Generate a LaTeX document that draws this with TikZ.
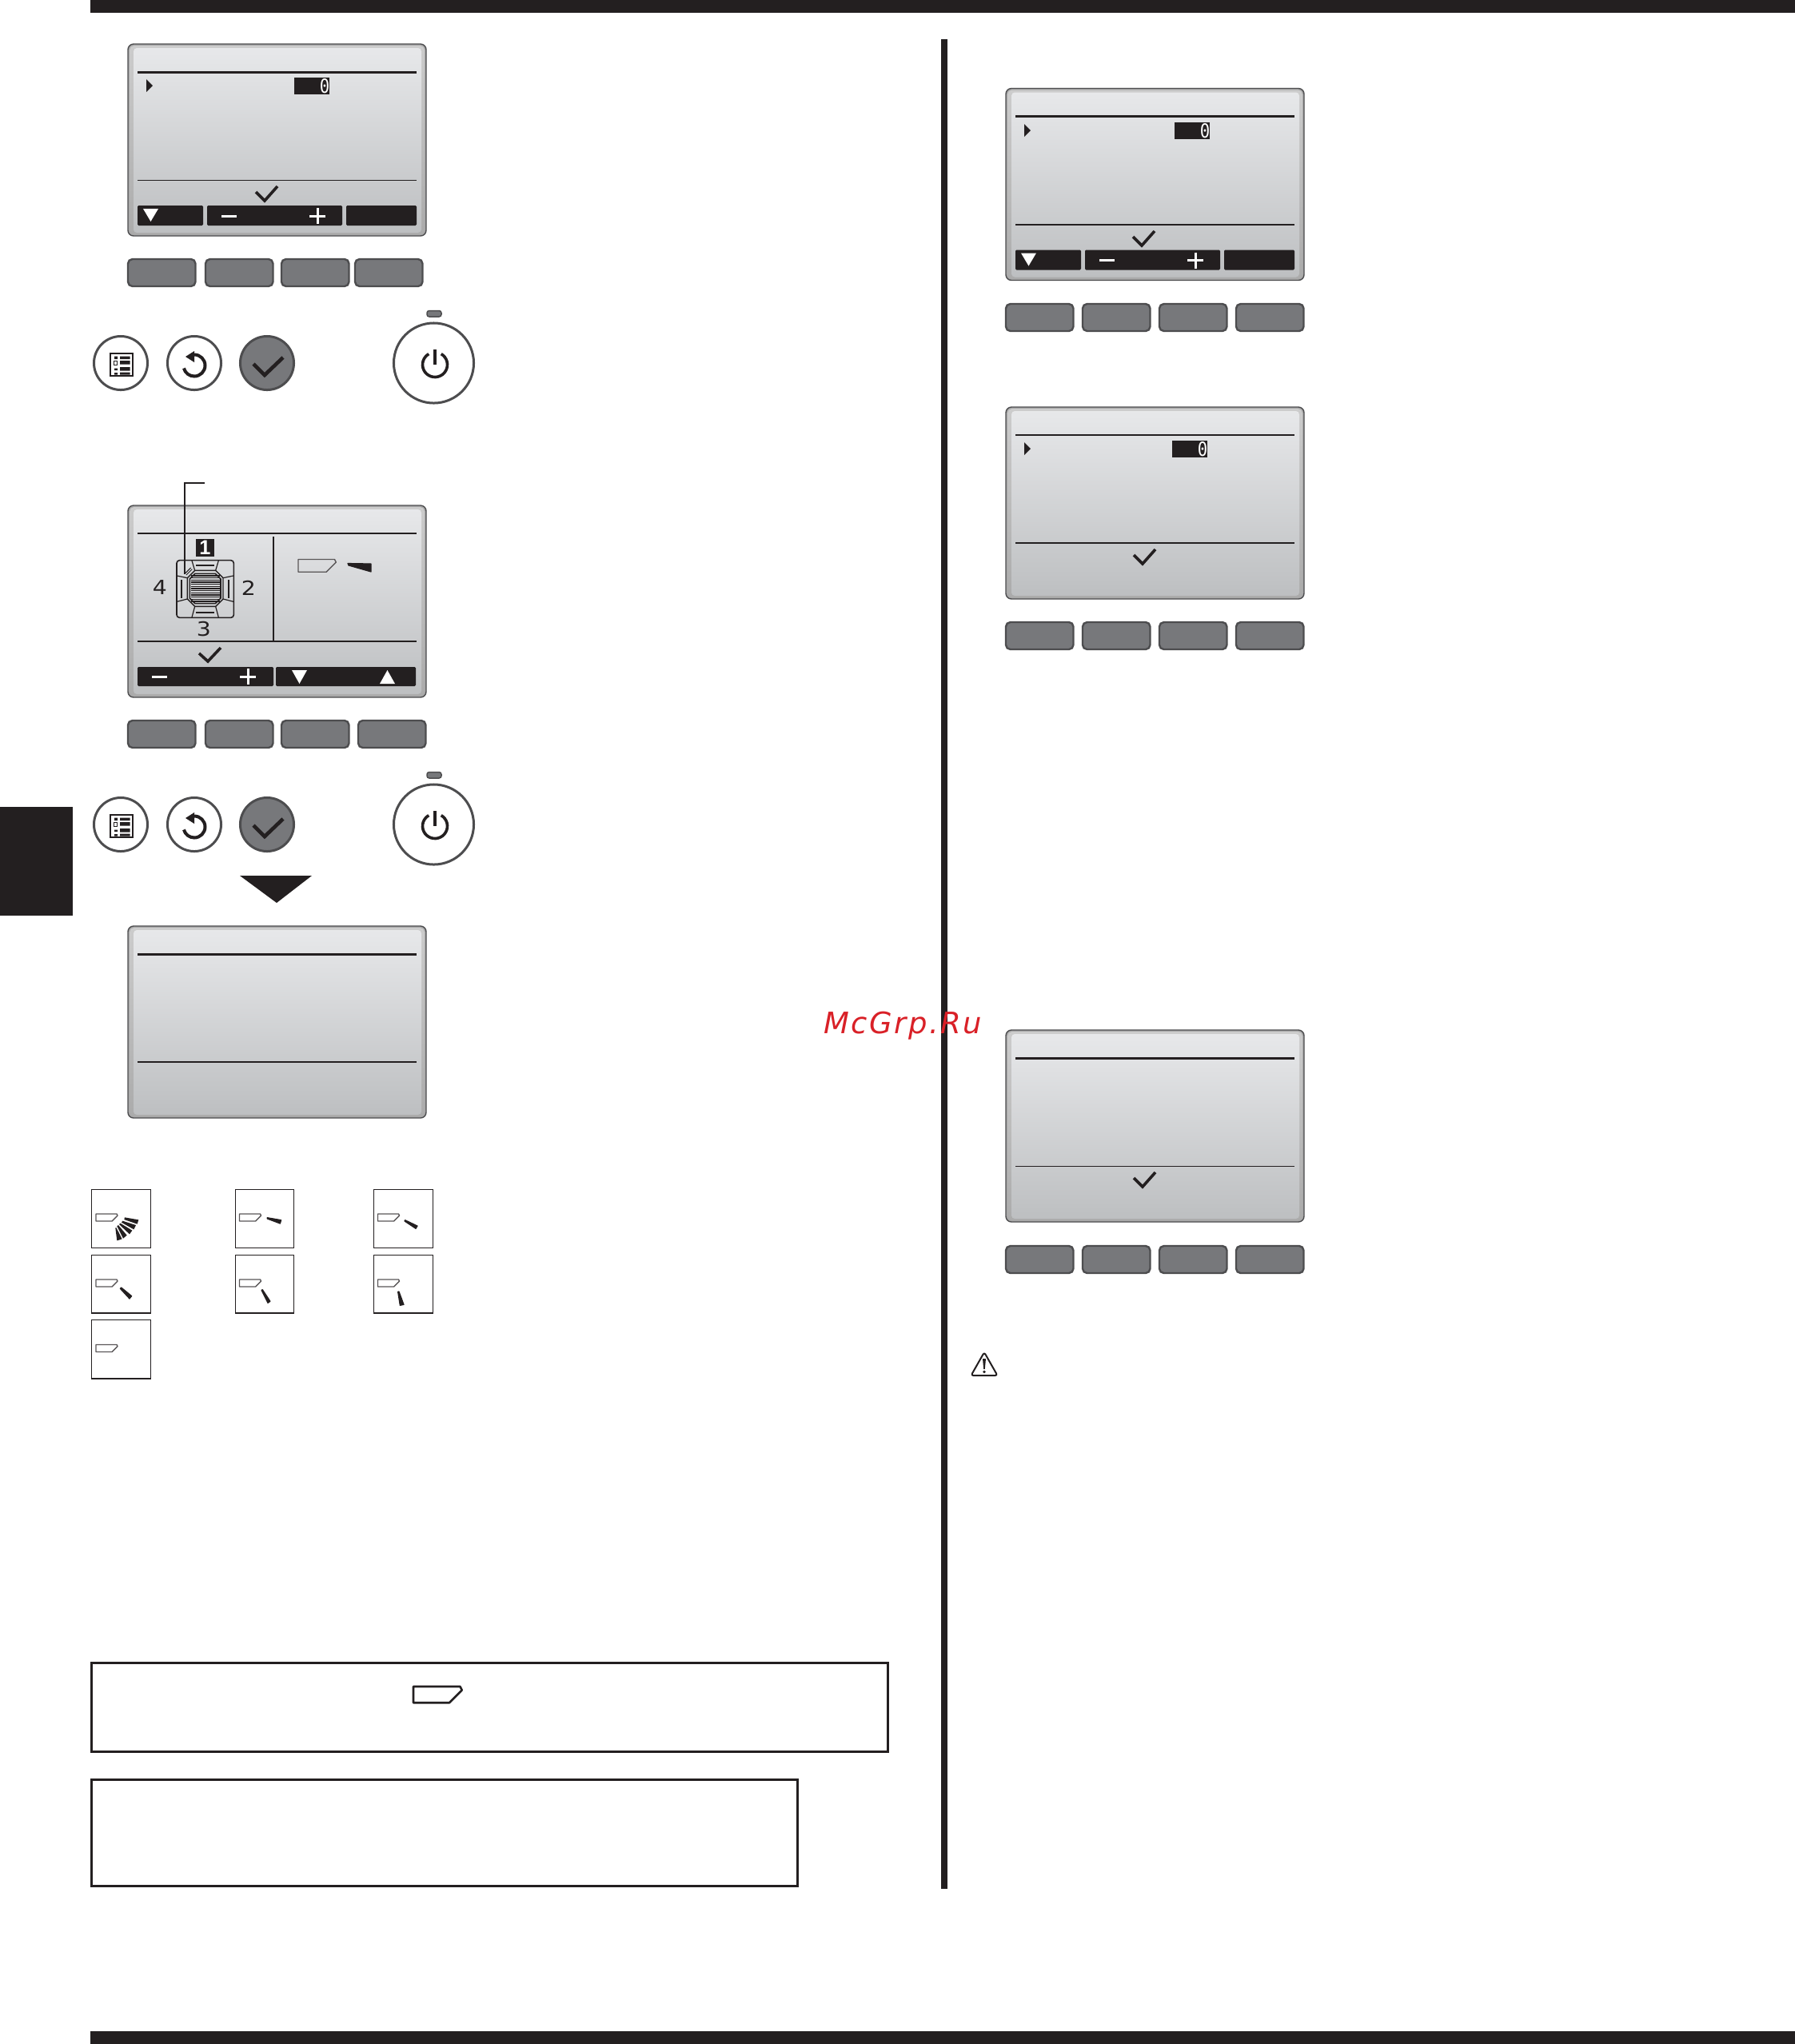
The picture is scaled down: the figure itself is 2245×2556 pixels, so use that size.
\documentclass[tikz,border=0pt]{standalone}
\usepackage{fontspec}
\setmainfont{DejaVu Sans}
\newfontfamily\monofnt{DejaVu Sans Mono}
\newfontfamily\digitfnt{Liberation Sans}
\newfontfamily\wmfnt[LetterSpace=6.5]{DejaVu Sans}
\definecolor{ink}{HTML}{231F20}
\definecolor{btn}{HTML}{77787B}
\definecolor{btnedge}{HTML}{4D4D4F}
\definecolor{scrtop}{HTML}{E7E8EA}
\definecolor{scrbot}{HTML}{BDBFC1}
\definecolor{wmred}{HTML}{D92027}
\tikzset{
  lw/.style={line width=#1*0.2845pt},
  softbar/.style={fill=ink,rounded corners=0.4pt},
  softkey/.style={fill=btn,draw=btnedge,lw=2.4,rounded corners=1.6pt},
  roundkey/.style={fill=white,draw=btnedge,lw=3},
  check/.style={draw=ink,lw=3.6,line join=miter},
  louver/.style={draw=ink!75,lw=1.4,line join=round},
  wedge/.style={fill=ink,draw=ink,lw=1.2,line join=round},
  fanblade/.style={fill=ink},
  thumb/.style={draw=ink,lw=1.7,fill=white},
  notebox/.style={draw=ink,lw=3,fill=white},
  txt/.style={inner sep=0pt,text=ink},
}
% screen body with bevel; #1,#2 shift; #3,#4 widths of the two rules
\newcommand{\screenbody}[4]{%
  \begin{scope}[shift={(#1,#2)}]
    \fill[rounded corners=2pt,draw=btnedge,lw=1.4,fill=black!34] (160,55) rectangle (533,295);
    \shade[rounded corners=1.6pt,top color=black!20,bottom color=black!33] (162,57) rectangle (531,293);
    \shade[rounded corners=1.2pt,top color=scrtop,bottom color=scrbot] (167,60) rectangle (527,291);
    \draw[ink,lw=#3] (172,90) -- (521,90);
    \draw[ink,lw=#4] (172,225) -- (521,225);
  \end{scope}}
\newcommand{\screencheck}[2]{\draw[check,shift={(#1,#2)}] (320,240) -- (331,251) -- (347,233);}
\newcommand{\valuebox}[3]{%
  \begin{scope}[shift={(#1,#2)}]
    \fill[ink] (183,99) -- (191,107) -- (183,115) -- cycle;
    \fill[ink] (#3,97) rectangle (#3+44,118);
    \node[txt,text=white,font=\monofnt\fontsize{6.9pt}{7pt}\selectfont] (zero#1#2) at (#3+38,107.5) {\scalebox{0.85}[1]{0}};
  \end{scope}}
\newcommand{\softbars}[2]{%
  \begin{scope}[shift={(#1,#2)}]
    \fill[softbar] (172,257) rectangle (254,282);
    \fill[softbar] (259,257) rectangle (428,282);
    \fill[softbar] (433,257) rectangle (521,282);
    \fill[white] (179,261) -- (198,261) -- (188.5,277) -- cycle;
    \draw[white,lw=3] (277,270) -- (296,270);
    \draw[white,lw=3] (387,270) -- (407,270) (397,260) -- (397,280);
  \end{scope}}
\newcommand{\btnrow}[5]{%
  \fill[softkey] (#1+1,#5+1) rectangle (#1+85.5,#5+35);
  \fill[softkey] (#2+1,#5+1) rectangle (#2+85.5,#5+35);
  \fill[softkey] (#3+1,#5+1) rectangle (#3+85.5,#5+35);
  \fill[softkey] (#4+1,#5+1) rectangle (#4+85.5,#5+35);}
\newcommand{\panelkeys}[1]{%
  \begin{scope}[shift={(0,#1)}]
    \draw[roundkey] (151,454) circle[radius=0.335cm];
    \draw[roundkey] (243,454) circle[radius=0.335cm];
    \draw[roundkey,fill=btn] (334,454) circle[radius=0.335cm];
    \draw[roundkey] (542.5,454) circle[radius=0.5cm];
    \fill[btn,draw=btnedge,lw=1.5,rounded corners=0.8pt] (534,388.5) rectangle (552,396);
    % menu icon
    \draw[ink,lw=2.4] (138,442) rectangle (166,470);
    \fill[ink] (143,445.5) rectangle (147,449) (143,460.5) rectangle (147,463) (143,466) rectangle (147,468.5);
    \draw[ink,lw=1.2] (142.5,451.5) rectangle (146.5,456.5);
    \fill[ink] (150,445.5) rectangle (162.5,449) (150,451) rectangle (162.5,455.5) (150,459) rectangle (162.5,463.5) (150,465.5) rectangle (162.5,468.5);
    % return icon
    \draw[ink,lw=4] (243,457)+(90:0.135cm) arc[start angle=90,end angle=-165,radius=0.135cm];
    \fill[ink] (232,446) -- (243,439) -- (243,453) -- cycle;
    % check icon
    \draw[ink,lw=4.6] (317,455) -- (331,469) -- (354,447);
    % power icon
    \draw[ink,lw=3.6] (544,456)+(60:0.155cm) arc[start angle=60,end angle=-240,radius=0.155cm];
    \draw[ink,lw=4.6] (544,437) -- (544,456);
  \end{scope}}
\newcommand{\louv}[3]{%
  \draw[louver,shift={(#1,#2)},scale=#3] (0,0) -- (26,0) -- (27,2) -- (20,9) -- (0,9) -- cycle;}
\begin{document}
\begin{tikzpicture}[x=0.01cm,y=-0.01cm]
\useasboundingbox (0,0) rectangle (2245,2556);
\fill[white] (0,0) rectangle (2245,2556);
% page furniture
\fill[ink] (113,0) rectangle (2245,16);
\fill[ink] (113,2540) rectangle (2245,2556);
\fill[ink] (0,1009) rectangle (91,1145);
\fill[ink] (1177,49) rectangle (1185,2362);
% left column, first screen
\screenbody{0}{0}{3}{1}
\valuebox{0}{0}{368}
\screencheck{0}{0}
\softbars{0}{0}
\btnrow{159}{256}{351}{443}{323}
\panelkeys{0}
% left column, second screen
\screenbody{0}{577}{2}{2}
\draw[ink,lw=2] (342,671) -- (342,802);
\btnrow{159}{256}{351}{447}{900}
\panelkeys{577}
\fill[ink,rounded corners=0.4pt] (172,834) rectangle (342,858);
\fill[ink,rounded corners=0.4pt] (345,834) rectangle (520,858);
\draw[white,lw=3] (190,846) -- (209,846);
\draw[white,lw=3] (300,846) -- (320,846) (310,836) -- (310,856);
\fill[white] (365,838) -- (384,838) -- (374.5,855) -- cycle;
\fill[white] (475,855) -- (494,855) -- (484.5,838) -- cycle;
\draw[check] (249,817) -- (260,827) -- (276,810);
% blade marker and unit
\fill[ink] (245,674) rectangle (268,696);
\node[txt,text=white,font=\digitfnt\fontsize{7.2pt}{7pt}\selectfont\bfseries] (unitone) at (256.5,685) {1};
\node[txt,font=\fontsize{7pt}{7pt}\selectfont] (unitfour) at (200,735) {\scalebox{1.15}[1]{4}};
\node[txt,font=\fontsize{7pt}{7pt}\selectfont] (unittwo) at (311,735) {\scalebox{1.15}[1]{2}};
\node[txt,font=\fontsize{7pt}{7pt}\selectfont] (unitthree) at (255,787) {\scalebox{1.15}[1]{3}};
\louv{373}{699.5}{1.75}
\fill[wedge] (435,704.5) -- (464,705) -- (464,715) -- (436,707) -- cycle;
% cassette icon, coordinates from the 3x crop
\begin{scope}[shift={(140,590)},scale=1/3]
  \draw[ink,lw=1.6,rounded corners=1pt] (243,332) rectangle (457,547);
  \draw[ink,lw=1.4] (283,398) -- (311,370) -- (389,370) -- (417,398) -- (417,477) -- (389,505) -- (311,505) -- (283,477) -- cycle;
  \draw[ink,lw=1.6] (292,402) -- (312,382) -- (388,382) -- (408,402) -- (408,474) -- (388,494) -- (312,494) -- (292,474) -- cycle;
  \foreach \yy in {390,398,...,490} \draw[ink,lw=1.2] (296,\yy) -- (404,\yy);
  \draw[ink,lw=1.2] (300,333) -- (311,370) (400,333) -- (389,370) (300,546) -- (311,505) (400,546) -- (389,505);
  \draw[ink,lw=1.2] (244,390) -- (283,398) (456,390) -- (417,398) (244,487) -- (283,477) (456,487) -- (417,477);
  \draw[ink,lw=2.6] (315,351) -- (385,351) (315,528) -- (385,528) (261,405) -- (261,475) (438,405) -- (438,475);
  \draw[ink,lw=1] (274,382) -- (296,360) (279,387) -- (301,365);
\end{scope}
% leader
\coordinate (leadstart) at (256,604);
\coordinate (leadelbow) at (231,604);
\coordinate (leadend) at (231,718);
\draw[ink,lw=2.6] (leadstart) -- (leadelbow) -- (leadend);
% down arrow and third screen
\fill[ink] (300,1095) -- (390,1095) -- (346,1129) -- cycle;
\screenbody{0}{1103}{3}{2}
% right column
\screenbody{1098}{55.5}{3}{2}
\valuebox{1098}{56}{371}
\screencheck{1097}{56}
\softbars{1098}{55.5}
\btnrow{1257}{1353}{1449}{1545}{379}
\screenbody{1098}{454}{2}{2}
\valuebox{1098}{454}{368}
\screencheck{1098}{454}
\btnrow{1257}{1353}{1449}{1545}{777}
\screenbody{1098}{1233}{3}{1}
\screencheck{1098}{1233}
\btnrow{1257}{1353}{1449}{1545}{1557}
% thumbnails
\draw[thumb] (114.5,1487.5) rectangle (188.5,1560.5);
\draw[thumb] (294.5,1487.5) rectangle (367.5,1560.5);
\draw[thumb] (467.5,1487.5) rectangle (541.5,1560.5);
\draw[thumb] (114.5,1569.5) rectangle (188.5,1642);
\draw[thumb] (294.5,1569.5) rectangle (367.5,1642);
\draw[thumb] (467.5,1569.5) rectangle (541.5,1642);
\draw[thumb] (114.5,1650.5) rectangle (188.5,1724);
\louv{120}{1518}{1}
\louv{299.5}{1518}{1}
\louv{472.5}{1518}{1}
\louv{120}{1600}{1}
\louv{299.5}{1600}{1}
\louv{472.5}{1600}{1}
\louv{120}{1681.5}{1}
\begin{scope}[shift={(100,1470)},scale=1/3]
  \fill[fanblade] (168,157) -- (220,166) -- (215,182) -- (166,165) -- cycle;
  \fill[fanblade] (160,170) -- (210,186) -- (202,202) -- (156,176) -- cycle;
  \fill[fanblade] (152,179) -- (196,206) -- (186,220) -- (147,183) -- cycle;
  \fill[fanblade] (144,186) -- (176,224) -- (162,236) -- (139,190) -- cycle;
  \fill[fanblade] (136,195) -- (158,238) -- (139,244) -- (133,197) -- cycle;
  \fill[wedge] (703,158) -- (755,167) -- (751,180) -- (703,162) -- cycle;
  \fill[wedge] (1220,167) -- (1266,189) -- (1260,199) -- (1218,171) -- cycle;
  \fill[wedge] (155,420) -- (194,452) -- (186,462) -- (151,424) -- cycle;
  \fill[wedge] (685,428) -- (714,472) -- (705,478) -- (681,430) -- cycle;
  \fill[wedge] (1197,435) -- (1215,484) -- (1201,487) -- (1193,436) -- cycle;
\end{scope}
% note boxes
\draw[notebox] (114,2079) rectangle (1110,2190);
\draw[notebox] (114,2225) rectangle (997,2358);
\draw[ink,lw=2.6,line join=round,shift={(517,2109)},scale=2.25] (0,0) -- (26,0) -- (27,2) -- (20,9) -- (0,9) -- cycle;
% warning
\draw[ink,lw=2,line join=round,rounded corners=0.8pt] (1231,1691) -- (1247.5,1720) -- (1214.5,1720) -- cycle;
\fill[ink] (1229,1699) -- (1233,1699) -- (1231.8,1712) -- (1230.2,1712) -- cycle;
\fill[ink] (1231,1715.5) circle[radius=0.018cm];
% watermark
\node[anchor=base west,inner sep=0pt,text=wmred,font=\wmfnt\itshape\fontsize{10.5pt}{12pt}\selectfont] (watermark) at (1030,1292) {McGrp.Ru};
\end{tikzpicture}
\end{document}
